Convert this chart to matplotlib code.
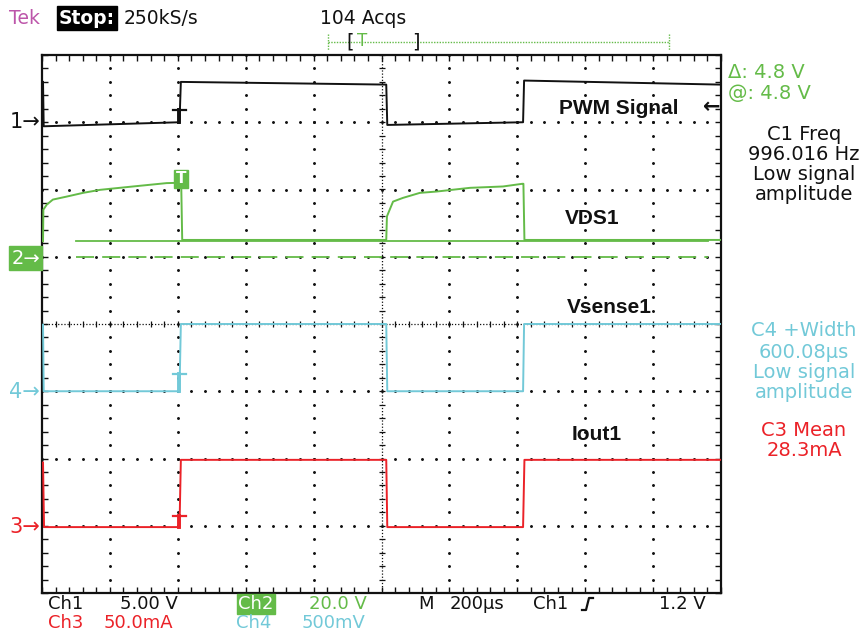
import numpy as np
import matplotlib
matplotlib.use("Agg")
import matplotlib.pyplot as plt

# time base: 200 us/div, 10 divisions
time_per_div = 200.0

# Ch1 - PWM signal (V), 5 V/div, ground at +3 div
ch1_t = [3, 5, 405, 409, 1014, 1017, 1417, 1420, 1997]
ch1_v = [3.0, -0.3, 0.0, 3.0, 2.8, -0.2, 0.0, 3.1, 2.8]

# Ch2 - VDS1 (V), 20 V/div, ground at +1 div
ch2_t = [3, 4, 14, 32, 73, 121, 171, 268, 367, 405, 410, 413,
         1014, 1016, 1034, 1063, 1113, 1163, 1261, 1358, 1415, 1418, 1421, 1997]
ch2_v = [4.6, 14.0, 15.5, 17.0, 17.9, 19.0, 19.9, 20.9, 21.9, 22.0, 22.0, 5.0,
         5.0, 12.0, 16.4, 17.5, 19.0, 19.4, 20.5, 20.9, 21.7, 21.7, 5.0, 5.0]

# Ch3 - Iout1 (mA), 50 mA/div, ground at -3 div
ch3_t = [3, 6, 405, 409, 1014, 1017, 1417, 1421, 1997]
ch3_v = [47, -1, -1, 49, 49, -1, -1, 49, 49]

# Ch4 - Vsense1 (mV), 500 mV/div, ground at -1 div
ch4_t = [3, 5, 405, 409, 1014, 1017, 1417, 1420, 1997]
ch4_v = [495, 0, 0, 500, 500, 0, 0, 500, 500]

# channel settings: (scale per div, ground position in div)
ch1_scale, ch1_gnd = 5.0, 3.0
ch2_scale, ch2_gnd = 20.0, 1.0
ch3_scale, ch3_gnd = 50.0, -3.0
ch4_scale, ch4_gnd = 500.0, -1.0

trig_t = 405
cursor_v = [0.0, 4.8]
cursor_t = [100, 1962]

BLACK = "#111111"
GREEN = "#64bb48"
RED = "#eb2228"
CYAN = "#72c9d8"
PURPLE = "#bd56aa"

W, H = 867, 635


def to_div(values, scale, gnd):
    return gnd + np.asarray(values, dtype=float) / scale


fig = plt.figure(figsize=(W / 100, H / 100), dpi=100)
ax = fig.add_axes([42 / W, 1 - 593 / H, (721 - 42) / W, (593 - 55) / H])
ax.set_xlim(0, 10)
ax.set_ylim(-4, 4)

# graticule
ax.set_xticks(np.arange(0, 10.01, 0.2))
ax.set_yticks(np.arange(-4, 4.01, 0.2))
ax.tick_params(direction="in", length=4, width=1, top=True, right=True,
               labelbottom=False, labelleft=False, color=BLACK)
for s in ax.spines.values():
    s.set_linewidth(1.6)
    s.set_color(BLACK)

minor = np.arange(0, 10.01, 0.2)
minor_y = np.arange(-4, 4.01, 0.2)
for gx in range(1, 10):
    if gx == 5:
        continue
    ax.plot(np.full(minor_y.size, gx), minor_y, ls="none", marker=".",
            ms=2.2, color=BLACK, zorder=1)
for gy in range(-3, 4):
    if gy == 0:
        continue
    ax.plot(minor, np.full(minor.size, gy), ls="none", marker=".",
            ms=2.2, color=BLACK, zorder=1)
ax.axhline(0, ls=(0, (1, 1.5)), lw=0.9, color=BLACK, zorder=1)
ax.axvline(5, ls=(0, (1, 1.5)), lw=0.9, color=BLACK, zorder=1)
ax.plot(minor, np.zeros(minor.size), ls="none", marker="|", ms=5,
        mew=0.9, color=BLACK, zorder=1)
ax.plot(np.full(minor_y.size, 5), minor_y, ls="none", marker="_", ms=5,
        mew=0.9, color=BLACK, zorder=1)

# cursors on ch2
ct = np.array(cursor_t) / time_per_div
ax.plot(ct, to_div([cursor_v[0]] * 2, ch2_scale, ch2_gnd), color=GREEN,
        lw=1.3, ls=(0, (10, 4.5)), zorder=2)
ax.plot(ct, to_div([cursor_v[1]] * 2, ch2_scale, ch2_gnd), color=GREEN,
        lw=1.3, zorder=2)

# traces
ax.plot(np.array(ch1_t) / time_per_div, to_div(ch1_v, ch1_scale, ch1_gnd),
        color=BLACK, lw=1.4, zorder=3)
ax.plot(np.array(ch2_t) / time_per_div, to_div(ch2_v, ch2_scale, ch2_gnd),
        color=GREEN, lw=1.4, zorder=3)
ax.plot(np.array(ch4_t) / time_per_div, to_div(ch4_v, ch4_scale, ch4_gnd),
        color=CYAN, lw=1.4, zorder=3)
ax.plot(np.array(ch3_t) / time_per_div, to_div(ch3_v, ch3_scale, ch3_gnd),
        color=RED, lw=1.4, zorder=3)

# trigger point markers
tx = trig_t / time_per_div
for lvl, low, sc, gnd, col in [(0.9, 0.0, ch1_scale, ch1_gnd, BLACK),
                               (130, 0, ch4_scale, ch4_gnd, CYAN),
                               (7, -1, ch3_scale, ch3_gnd, RED)]:
    yl = to_div([lvl], sc, gnd)[0]
    yb = to_div([low], sc, gnd)[0]
    ax.plot([tx - 0.1, tx + 0.1], [yl, yl], color=col, lw=1.6, zorder=4)
    ax.plot([tx, tx], [yl, yb], color=col, lw=2.8, zorder=4)
ax.text(tx + 0.02, to_div([22.0], ch2_scale, ch2_gnd)[0] + 0.06, "T",
        color="white", fontsize=11, fontweight="bold", ha="center",
        va="center", bbox=dict(facecolor=GREEN, edgecolor=GREEN, pad=1.2),
        zorder=5)

# trace labels
for label, x, y in [("PWM Signal", 559, 109), ("VDS1", 565, 219),
                    ("Vsense1", 567, 308), ("Iout1", 572, 434)]:
    fig.text(x / W, 1 - y / H, label, fontsize=15, fontweight="bold",
             family="Liberation Sans", color=BLACK, ha="left", va="center")

# overlay in pixel coordinates for the scope readouts
ov = fig.add_axes([0, 0, 1, 1])
ov.set_xlim(0, W)
ov.set_ylim(H, 0)
ov.axis("off")
ov.patch.set_visible(False)

font = "DejaVu Sans"
ov.text(9, 18, "Tek", color=PURPLE, fontsize=13.5, family=font, va="center")
ov.text(59, 18, "Stop:", color="white", fontsize=13.5, family=font,
        fontweight="bold", va="center",
        bbox=dict(facecolor="black", edgecolor="black", pad=1.5))
ov.text(124, 18, "250kS/s", color=BLACK, fontsize=13.5, family=font,
        va="center")
ov.text(320, 18, "104 Acqs", color=BLACK, fontsize=13.5, family=font,
        va="center")

# record position bar
ov.plot([328, 669], [42, 42], color=GREEN, lw=1, ls=(0, (1, 1)))
ov.plot([328, 328], [34, 50], color=GREEN, lw=1, ls=(0, (1, 1)))
ov.plot([669, 669], [34, 50], color=GREEN, lw=1, ls=(0, (1, 1)))
ov.text(346, 42, "[", color=BLACK, fontsize=14, family=font, va="center")
ov.text(357, 41, "T", color=GREEN, fontsize=12, family=font, va="center")
ov.text(412, 42, "]", color=BLACK, fontsize=14, family=font, va="center")

# ground markers
ov.text(40, 122, "1→", color=BLACK, fontsize=15, family=font, ha="right",
        va="center")
ov.text(40, 258, "2→", color="white", fontsize=14, family=font, ha="right",
        va="center", bbox=dict(facecolor=GREEN, edgecolor=GREEN, pad=1.5))
ov.text(40, 392, "4→", color=CYAN, fontsize=15, family=font, ha="right",
        va="center")
ov.text(40, 527, "3→", color=RED, fontsize=15, family=font, ha="right",
        va="center")
ov.text(721, 107, "←", color=BLACK, fontsize=15, family=font,
        fontweight="bold", ha="right", va="center")

# measurement readouts
ov.text(728, 73, "Δ: 4.8 V", color=GREEN, fontsize=14, family=font,
        va="center")
ov.text(728, 93, "@: 4.8 V", color=GREEN, fontsize=14, family=font,
        va="center")
for txt, y in [("C1 Freq", 135), ("996.016 Hz", 155), ("Low signal", 175),
               ("amplitude", 195)]:
    ov.text(804, y, txt, color=BLACK, fontsize=14, family=font, ha="center",
            va="center")
for txt, y in [("C4 +Width", 331), ("600.08µs", 352), ("Low signal", 372),
               ("amplitude", 392)]:
    ov.text(804, y, txt, color=CYAN, fontsize=14, family=font, ha="center",
            va="center")
for txt, y in [("C3 Mean", 431), ("28.3mA", 451)]:
    ov.text(804, y, txt, color=RED, fontsize=14, family=font, ha="center",
            va="center")

# bottom status lines
fs = 13
ov.text(48, 604, "Ch1", color=BLACK, fontsize=fs, family=font, va="center")
ov.text(120, 604, "5.00 V", color=BLACK, fontsize=fs, family=font,
        va="center")
ov.text(238, 604, "Ch2", color="white", fontsize=fs, family=font,
        va="center", bbox=dict(facecolor=GREEN, edgecolor=GREEN, pad=1.0))
ov.text(309, 604, "20.0 V", color=GREEN, fontsize=fs, family=font,
        va="center")
ov.text(418, 604, "M", color=BLACK, fontsize=fs, family=font, va="center")
ov.text(450, 604, "200µs", color=BLACK, fontsize=fs, family=font,
        va="center")
ov.text(533, 604, "Ch1", color=BLACK, fontsize=fs, family=font, va="center")
ov.plot([582, 586, 589, 593], [610, 610, 598, 598], color=BLACK, lw=1.6)
ov.text(706, 604, "1.2 V", color=BLACK, fontsize=fs, family=font,
        ha="right", va="center")
ov.text(48, 623, "Ch3", color=RED, fontsize=fs, family=font, va="center")
ov.text(104, 623, "50.0mA", color=RED, fontsize=fs, family=font,
        va="center")
ov.text(236, 623, "Ch4", color=CYAN, fontsize=fs, family=font, va="center")
ov.text(302, 623, "500mV", color=CYAN, fontsize=fs, family=font,
        va="center")

fig.savefig("out.png", dpi=100, facecolor="white")
